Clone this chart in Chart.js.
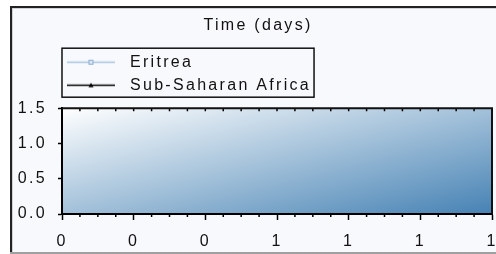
<!DOCTYPE html>
<html>
<head>
<meta charset="utf-8">
<script src="https://cdn.jsdelivr.net/npm/chart.js@4.4.1/dist/chart.umd.min.js"></script>
<style>
  html, body { margin: 0; padding: 0; background: #fff; }
</style>
</head>
<body>
<canvas id="chart" width="496" height="254"></canvas>
<script>
const seriesNames = ['Eritrea', 'Sub-Saharan Africa'];
const eritreaPoints = [];
const ssaPoints = [];
const xTickLabels = ['0', '0', '0', '1', '1', '1', '1'];
const yTickLabels = ['0.0', '0.5', '1.0', '1.5'];
const xRange = [0, 1];
const yRange = [0, 1.5];
const titleText = 'Time (days)';

const fontFamily = "'Liberation Sans', Arial, sans-serif";
const textColor = '#111';
const minorPerMajor = 4;

// small legend samples: a line with its marker
function makeSample(color, marker) {
  const c = document.createElement('canvas');
  c.width = 55;
  c.height = 9;
  const g = c.getContext('2d');
  g.strokeStyle = color;
  g.lineWidth = 1.5;
  g.beginPath();
  g.moveTo(0, 4.5);
  g.lineTo(48, 4.5);
  g.stroke();
  if (marker === 'rect') {
    g.fillStyle = '#dbe7f3';
    g.fillRect(22, 2.5, 4, 4);
    g.strokeStyle = '#8aaed2';
    g.lineWidth = 1;
    g.strokeRect(22, 2.5, 4, 4);
  } else {
    g.fillStyle = color;
    g.beginPath();
    g.moveTo(24, 2);
    g.lineTo(26.5, 6.5);
    g.lineTo(21.5, 6.5);
    g.closePath();
    g.fill();
  }
  return c;
}
const samples = [makeSample('#a9c4e0', 'rect'), makeSample('#000', 'triangle')];

const framePlugin = {
  id: 'frame',
  beforeLayout(chart) {
    chart.ctx.letterSpacing = '2.3px';
  },
  afterLayout(chart) {
    // title sits a little right of the canvas centre
    chart.titleBlock.left += 3;
    chart.titleBlock.right += 3;
    // lift the legend out of the plot, just under the title
    const lg = chart.legend;
    const top = chart.chartArea.top - 61;
    lg.top = top;
    lg.bottom = top + lg.height;
    lg.left -= 2;
    lg.right -= 2;
  },
  beforeDraw(chart) {
    const ctx = chart.ctx;
    ctx.letterSpacing = '2.3px';
    const {left, top, right, bottom} = chart.chartArea;
    ctx.save();
    ctx.fillStyle = '#fff';
    ctx.fillRect(0, 0, chart.width, chart.height);
    ctx.fillStyle = '#f8f9fc';
    ctx.fillRect(11, 7, chart.width, 246);
    ctx.fillStyle = '#222';
    ctx.fillRect(10, 6, 2, 247);
    ctx.fillRect(10, 6, chart.width, 2);
    ctx.fillStyle = '#cfd2d6';
    ctx.fillRect(12, 8, 1, 244);
    ctx.fillRect(12, 8, chart.width, 1);
    ctx.fillStyle = '#a0a0a0';
    ctx.fillRect(10, 252, chart.width, 2);

    const w = right - left, h = bottom - top;
    const k = 2 * w * h / (w * w + h * h);
    const grad = ctx.createLinearGradient(left, top, left + h * k, top + w * k);
    grad.addColorStop(0, '#ffffff');
    grad.addColorStop(1, '#4682b4');
    ctx.fillStyle = grad;
    ctx.fillRect(left, top, w, h);
    ctx.restore();
  },
  afterDraw(chart) {
    const ctx = chart.ctx;
    const {left, top, right, bottom} = chart.chartArea;
    const xs = chart.scales.x;
    const n = (xTickLabels.length - 1) * minorPerMajor;
    ctx.save();
    ctx.strokeStyle = '#000';
    ctx.lineWidth = 1.5;
    ctx.beginPath();
    for (let i = 1; i < n; i++) {
      const px = xs.getPixelForValue(xRange[0] + (xRange[1] - xRange[0]) * i / n);
      ctx.moveTo(px, top);
      ctx.lineTo(px, top + 3);
      if (i % minorPerMajor !== 0) {
        ctx.moveTo(px, bottom);
        ctx.lineTo(px, bottom + 3);
      }
    }
    ctx.stroke();
    // top and right edge of the plot
    ctx.lineWidth = 2;
    ctx.strokeStyle = '#111';
    ctx.beginPath();
    ctx.moveTo(left, top);
    ctx.lineTo(right, top);
    ctx.lineTo(right, bottom);
    ctx.stroke();

    // legend frame
    const hb = chart.legend.legendHitBoxes;
    if (hb && hb.length) {
      const x0 = hb[0].left - 5;
      const x1 = Math.max(...hb.map(b => b.left + b.width)) + 3;
      const y0 = hb[0].top - 6;
      const last = hb[hb.length - 1];
      const y1 = last.top + last.height + 4;
      ctx.lineWidth = 1.5;
      ctx.strokeStyle = '#111';
      ctx.strokeRect(x0, y0, x1 - x0, y1 - y0);
    }
    ctx.restore();
  }
};

new Chart(document.getElementById('chart'), {
  type: 'line',
  data: {
    datasets: [
      { label: seriesNames[0], data: eritreaPoints, borderColor: '#a9c4e0', pointStyle: 'rect' },
      { label: seriesNames[1], data: ssaPoints, borderColor: '#000', pointStyle: 'triangle' }
    ]
  },
  options: {
    responsive: false,
    animation: false,
    devicePixelRatio: 1,
    layout: { padding: { left: 18, right: 4, top: 0, bottom: 3 } },
    scales: {
      x: {
        type: 'linear',
        min: xRange[0],
        max: xRange[1],
        border: { color: '#000', width: 2 },
        grid: { drawOnChartArea: false, tickLength: 6, tickColor: '#000', tickWidth: 1.5 },
        ticks: {
          stepSize: (xRange[1] - xRange[0]) / (xTickLabels.length - 1),
          autoSkip: false,
          maxRotation: 0,
          padding: 12,
          color: textColor,
          font: { family: fontFamily, size: 16 },
          callback: (v, i) => xTickLabels[i]
        },
        afterFit: s => { s.paddingRight = 0; s.height = 37; }
      },
      y: {
        min: yRange[0],
        max: yRange[1],
        border: { color: '#000', width: 2 },
        grid: { drawOnChartArea: false, tickLength: 4, tickColor: '#000', tickWidth: 1.5 },
        ticks: {
          stepSize: 0.5,
          padding: 11,
          color: textColor,
          font: { family: fontFamily, size: 16 },
          callback: (v, i) => yTickLabels[i]
        },
        afterFit: s => { s.width = 44; }
      }
    },
    plugins: {
      title: {
        display: true,
        text: titleText,
        color: textColor,
        font: { family: fontFamily, size: 16, weight: 'normal' },
        padding: { top: 16, bottom: 73 }
      },
      legend: {
        position: 'chartArea',
        fullSize: false,
        align: 'start',
        labels: {
          usePointStyle: true,
          pointStyleWidth: 55,
          boxHeight: 9,
          padding: 7,
          color: textColor,
          font: { family: fontFamily, size: 16 },
          generateLabels(chart) {
            const items = Chart.defaults.plugins.legend.labels.generateLabels(chart);
            items.forEach((it, i) => { it.pointStyle = samples[i]; it.fontColor = textColor; });
            return items;
          }
        }
      },
      tooltip: { enabled: false }
    }
  },
  plugins: [framePlugin]
});
</script>
</body>
</html>
